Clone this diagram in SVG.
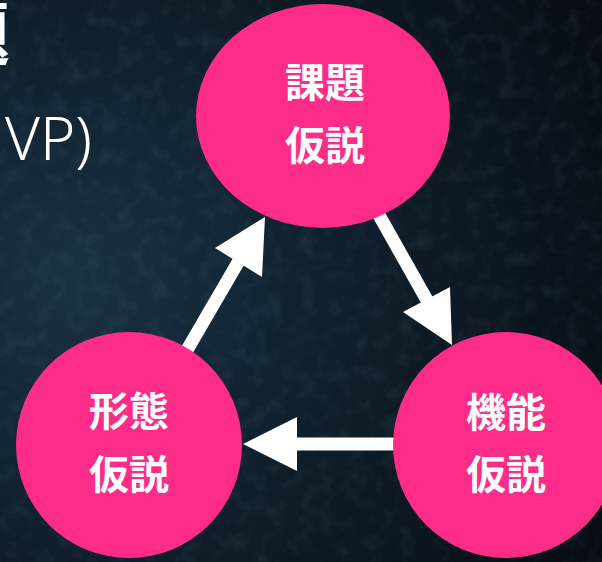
<svg xmlns="http://www.w3.org/2000/svg" width="602" height="562" viewBox="0 0 602 562">
  <defs>
    <radialGradient id="bg" cx="0.12" cy="0.5" r="1">
      <stop offset="0" stop-color="#183244"/>
      <stop offset="0.45" stop-color="#0f1f2c"/>
      <stop offset="1" stop-color="#070c13"/>
    </radialGradient>
    <filter id="tex" x="0" y="0" width="100%" height="100%">
      <feTurbulence type="fractalNoise" baseFrequency="0.06" numOctaves="4" seed="7" result="n"/>
      <feColorMatrix in="n" type="matrix" values="0 0 0 0 0.35  0 0 0 0 0.55  0 0 0 0 0.7  0 0 0 1.2 -0.55"/>
    </filter>
    <style>
      .node { fill: #fd2c89; }
      .lbl { fill: #ffffff; font-family: "Noto Sans CJK JP", "Noto Sans CJK SC", sans-serif; font-weight: 700; font-size: 40px; text-anchor: middle; }
      .conn { stroke: #ffffff; stroke-width: 13; fill: none; }
      .head { fill: #ffffff; }
      .title { fill: #ffffff; font-family: "Noto Sans", "Noto Sans CJK JP", sans-serif; }
    </style>
  </defs>

  <rect width="602" height="562" fill="url(#bg)"/>
  <rect width="602" height="562" filter="url(#tex)" opacity="0.15"/>

  <g id="title">
    <text class="title" x="10" y="60" font-size="70" font-weight="700" text-anchor="end" font-family="Noto Sans CJK JP, sans-serif">題</text>
    <text class="title" x="92" y="160" font-size="60" font-weight="300" text-anchor="end">(MVP)</text>
  </g>

  <g id="connectors">
    <g id="edge-form-problem">
      <line class="conn" x1="180" y1="362" x2="240" y2="259"/>
      <polygon class="head" points="265,217 215,248 262,277"/>
    </g>
    <g id="edge-problem-function">
      <line class="conn" x1="375" y1="208" x2="428" y2="302"/>
      <polygon class="head" points="452,345 403,312 450,287"/>
    </g>
    <g id="edge-function-form">
      <line class="conn" x1="400" y1="444" x2="294" y2="444"/>
      <polygon class="head" points="243,444 297,417 297,471"/>
    </g>
  </g>

  <g id="node-problem">
    <ellipse class="node" cx="323" cy="116" rx="127" ry="112"/>
    <text class="lbl" x="325" y="97">課題</text>
    <text class="lbl" x="325" y="160">仮説</text>
  </g>
  <g id="node-form">
    <circle class="node" cx="129" cy="445" r="113"/>
    <text class="lbl" x="129" y="426">形態</text>
    <text class="lbl" x="129" y="489">仮説</text>
  </g>
  <g id="node-function">
    <circle class="node" cx="506" cy="445" r="113"/>
    <text class="lbl" x="506" y="427">機能</text>
    <text class="lbl" x="506" y="489">仮説</text>
  </g>
</svg>
